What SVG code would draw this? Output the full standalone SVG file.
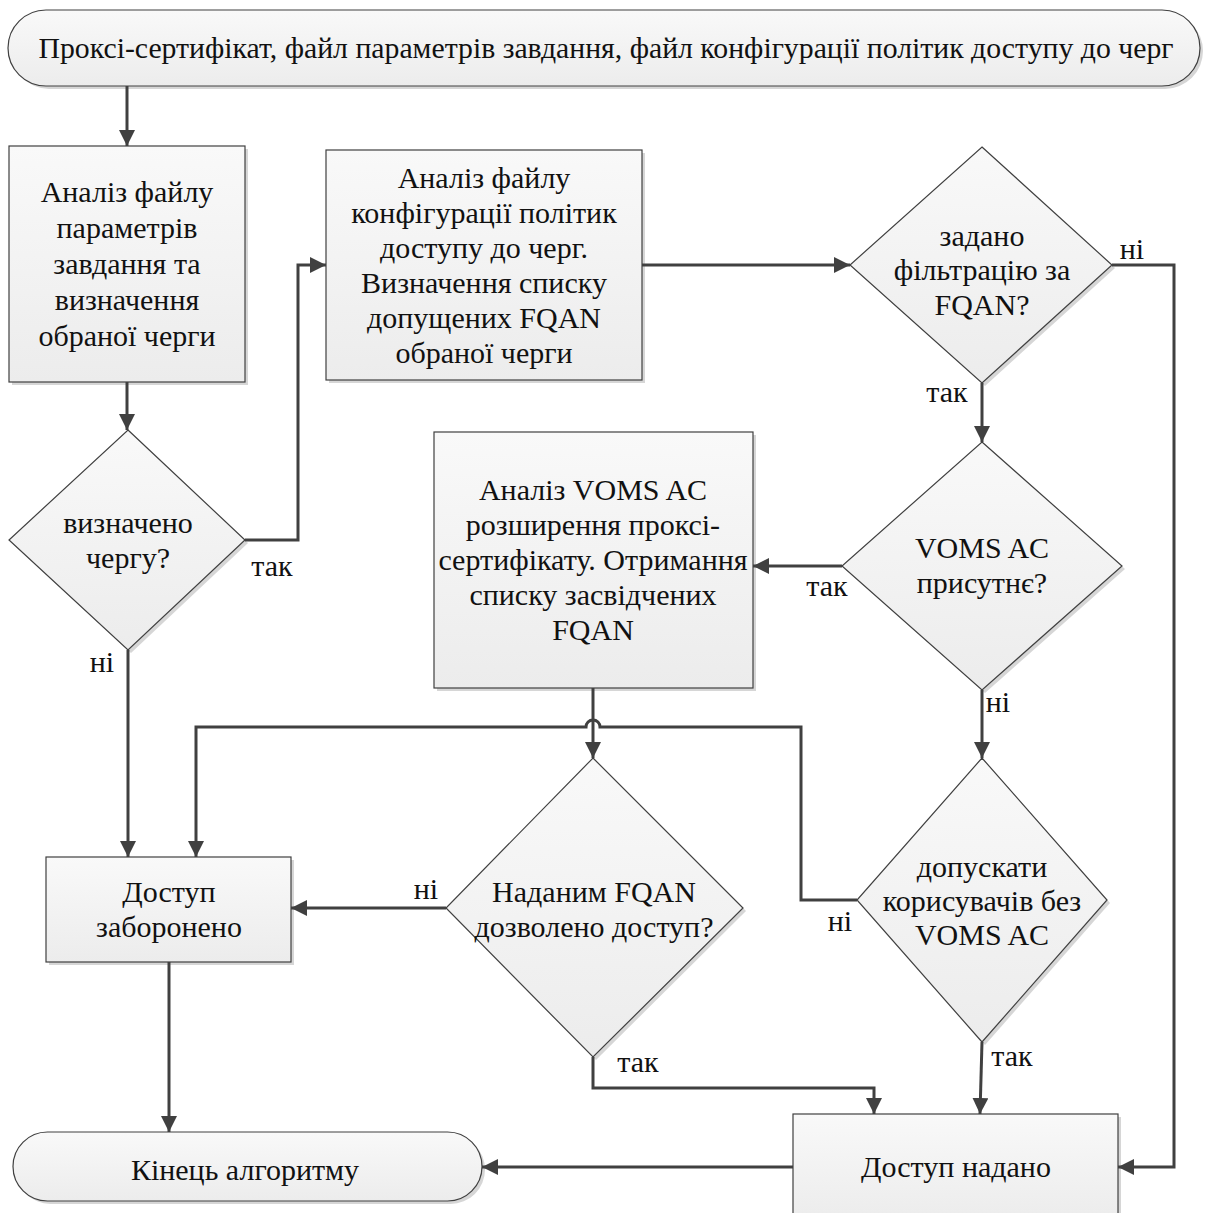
<svg xmlns="http://www.w3.org/2000/svg" width="1206" height="1213" viewBox="0 0 1206 1213">
<defs>
<linearGradient id="g" x1="0" y1="0" x2="0" y2="1">
<stop offset="0" stop-color="#f9f9f9"/>
<stop offset="1" stop-color="#ececec"/>
</linearGradient>
<marker id="ah" markerUnits="userSpaceOnUse" markerWidth="16" markerHeight="16" refX="16" refY="8" orient="auto">
<path d="M0,0 L16,8 L0,16 z" fill="#404040"/>
</marker>
<style>
.sh{fill:#d6d6d6;stroke:none}
.nd{fill:url(#g);stroke:#404040;stroke-width:1.2}
.t{font-family:"Liberation Serif","Times New Roman",serif;font-size:30px;fill:#111;text-anchor:middle}
.c{fill:none;stroke:#404040;stroke-width:3;marker-end:url(#ah)}
</style>
</defs>
<rect width="1206" height="1213" fill="#fff"/>

<g id="start">
<rect class="sh" x="11" y="13" width="1192" height="76" rx="38"/>
<rect class="nd" x="8" y="10" width="1192" height="76" rx="38"/>
<text class="t" x="606" y="58" textLength="1135" lengthAdjust="spacingAndGlyphs">Проксі-сертифікат, файл параметрів завдання, файл конфігурації політик доступу до черг</text>
</g>

<g id="box1">
<rect class="sh" x="12" y="149" width="236" height="236"/>
<rect class="nd" x="9" y="146" width="236" height="236"/>
<text class="t" x="127" y="202">Аналіз файлу</text>
<text class="t" x="127" y="238">параметрів</text>
<text class="t" x="127" y="274">завдання та</text>
<text class="t" x="127" y="310">визначення</text>
<text class="t" x="127" y="346">обраної черги</text>
</g>

<g id="box2">
<rect class="sh" x="329" y="153" width="316" height="230"/>
<rect class="nd" x="326" y="150" width="316" height="230"/>
<text class="t" x="484" y="188">Аналіз файлу</text>
<text class="t" x="484" y="223">конфігурації політик</text>
<text class="t" x="484" y="258">доступу до черг.</text>
<text class="t" x="484" y="293">Визначення списку</text>
<text class="t" x="484" y="328">допущених FQAN</text>
<text class="t" x="484" y="363">обраної черги</text>
</g>

<g id="dec1">
<polygon class="sh" points="131,433 248,543 131,653 12,543"/>
<polygon class="nd" points="128,430 245,540 128,650 9,540"/>
<text class="t" x="128" y="533">визначено</text>
<text class="t" x="128" y="568">чергу?</text>
</g>

<g id="dec3">
<polygon class="sh" points="985,150 1115,268 985,386 853,268"/>
<polygon class="nd" points="982,147 1112,265 982,383 850,265"/>
<text class="t" x="982" y="246">задано</text>
<text class="t" x="982" y="280">фільтрацію за</text>
<text class="t" x="982" y="315">FQAN?</text>
</g>

<g id="box3">
<rect class="sh" x="437" y="435" width="319" height="256"/>
<rect class="nd" x="434" y="432" width="319" height="256"/>
<text class="t" x="593" y="500">Аналіз VOMS AC</text>
<text class="t" x="593" y="535">розширення проксі-</text>
<text class="t" x="593" y="570">сертифікату. Отримання</text>
<text class="t" x="593" y="605">списку засвідчених</text>
<text class="t" x="593" y="640">FQAN</text>
</g>

<g id="dec4">
<polygon class="sh" points="985,445 1125,569 985,693 845,569"/>
<polygon class="nd" points="982,442 1122,566 982,690 842,566"/>
<text class="t" x="982" y="558">VOMS AC</text>
<text class="t" x="982" y="593">присутнє?</text>
</g>

<g id="dec5">
<polygon class="sh" points="985,761 1110,903 985,1045 860,903"/>
<polygon class="nd" points="982,758 1107,900 982,1042 857,900"/>
<text class="t" x="982" y="877">допускати</text>
<text class="t" x="982" y="911">корисувачів без</text>
<text class="t" x="982" y="945">VOMS AC</text>
</g>

<g id="dec6">
<polygon class="sh" points="596,761 746,911 596,1060 449,911"/>
<polygon class="nd" points="593,758 743,908 593,1057 446,908"/>
<text class="t" x="594" y="902">Наданим FQAN</text>
<text class="t" x="594" y="937">дозволено доступ?</text>
</g>

<g id="deny">
<rect class="sh" x="49" y="860" width="245" height="105"/>
<rect class="nd" x="46" y="857" width="245" height="105"/>
<text class="t" x="169" y="902">Доступ</text>
<text class="t" x="169" y="937">заборонено</text>
</g>

<g id="grant">
<rect class="sh" x="796" y="1117" width="325" height="106"/>
<rect class="nd" x="793" y="1114" width="325" height="106"/>
<text class="t" x="956" y="1177">Доступ надано</text>
</g>

<g id="end">
<rect class="sh" x="16" y="1135" width="469" height="69" rx="34.5"/>
<rect class="nd" x="13" y="1132" width="469" height="69" rx="34.5"/>
<text class="t" x="245" y="1180">Кінець алгоритму</text>
</g>

<g id="connectors">
<path class="c" d="M127,86 V146"/>
<path class="c" d="M127,382 V430"/>
<path class="c" d="M245,540 H298 V265 H326"/>
<path class="c" d="M642,265 H850"/>
<path class="c" d="M1112,265 H1174 V1167 H1118"/>
<path class="c" d="M982,383 V442"/>
<path class="c" d="M842,566 H753"/>
<path class="c" d="M982,690 V758"/>
<path class="c" d="M593,688 V758"/>
<path class="c" d="M857,900 H801 V727 H600 A7,7 0 0 0 586,727 H196 V857"/>
<path class="c" d="M128,650 V857"/>
<path class="c" d="M446,908 H291"/>
<path class="c" d="M593,1057 V1088 H874 V1114"/>
<path class="c" d="M982,1042 L980,1114"/>
<path class="c" d="M169,962 V1132"/>
<path class="c" d="M793,1167 H482"/>
</g>

<g id="labels">
<text class="t" x="272" y="576">так</text>
<text class="t" x="102" y="672">ні</text>
<text class="t" x="1132" y="259">ні</text>
<text class="t" x="947" y="402">так</text>
<text class="t" x="827" y="596">так</text>
<text class="t" x="998" y="712">ні</text>
<text class="t" x="426" y="899">ні</text>
<text class="t" x="638" y="1072">так</text>
<text class="t" x="840" y="931">ні</text>
<text class="t" x="1012" y="1066">так</text>
</g>
</svg>
